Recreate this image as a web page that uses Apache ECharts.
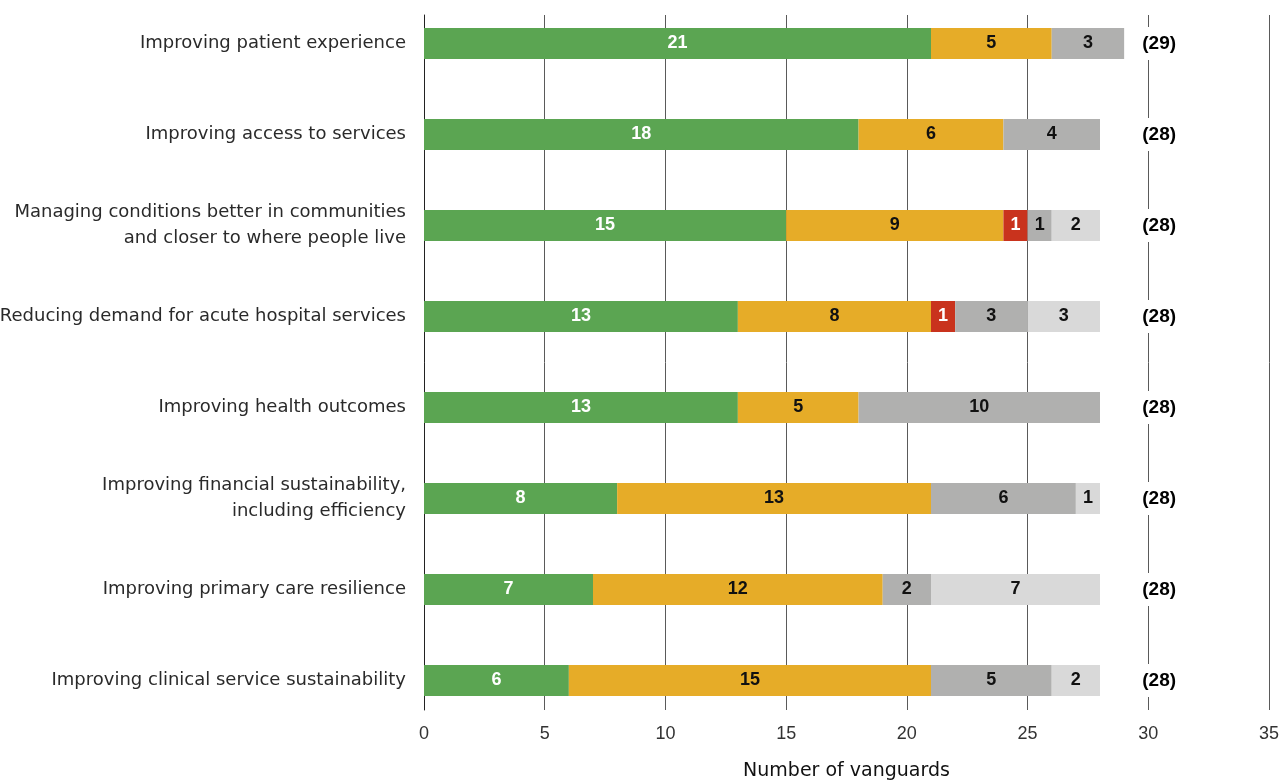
<!DOCTYPE html>
<html>
<head>
<meta charset="utf-8">
<script src="https://cdn.jsdelivr.net/npm/echarts@6/dist/echarts.min.js"></script>
<style>
  html, body { margin: 0; padding: 0; background: #fff; }
  #chart { width: 1284px; height: 781px; }
</style>
</head>
<body>
<div id="chart"></div>
<script>
// Vanguard objectives, top to bottom
const categories = [
  'Improving patient experience',
  'Improving access to services',
  'Managing conditions better in communities\nand closer to where people live',
  'Reducing demand for acute hospital services',
  'Improving health outcomes',
  'Improving financial sustainability,\nincluding efficiency',
  'Improving primary care resilience',
  'Improving clinical service sustainability'
];

// Stacked segment counts per objective (null = no segment)
const greenValues  = [21, 18, 15, 13, 13, 8, 7, 6];
const yellowValues = [5, 6, 9, 8, 5, 13, 12, 15];
const redValues    = [null, null, 1, 1, null, null, null, null];
const greyValues   = [3, 4, 1, 3, 10, 6, 2, 5];
const lightValues  = [null, null, 2, 3, null, 1, 7, 2];

const xTicks = [0, 5, 10, 15, 20, 25, 30, 35];

const totals = categories.map((_, i) =>
  [greenValues, yellowValues, redValues, greyValues, lightValues]
    .reduce((s, arr) => s + (arr[i] || 0), 0)
);

const FONT = '"Liberation Sans", Arial, Helvetica, sans-serif';
const TEXT_FONT = '"DejaVu Sans", "Liberation Sans", sans-serif';

function segment(name, data, color, textColor) {
  return {
    name: name,
    type: 'bar',
    stack: 'total',
    xAxisIndex: 0,
    yAxisIndex: 0,
    barWidth: 31,
    data: data,
    itemStyle: { color: color },
    label: {
      show: true,
      position: 'inside',
      color: textColor,
      fontFamily: FONT,
      fontSize: 18,
      fontWeight: 'bold',
      formatter: p => (p.value == null ? '' : p.value)
    },
    z: 3
  };
}

const chart = echarts.init(document.getElementById('chart'), null, { renderer: 'canvas' });

chart.setOption({
  animation: false,
  backgroundColor: '#ffffff',
  textStyle: { fontFamily: FONT },
  grid: [
    // bars
    { left: 424, right: 15, top: -2, height: 728, containLabel: false, outerBoundsMode: 'none' },
    // gridlines and x axis
    { left: 424, right: 15, top: 15, bottom: 71, containLabel: false, outerBoundsMode: 'none' }
  ],
  xAxis: [
    {
      gridIndex: 0, type: 'value', min: 0, max: 35, interval: 5,
      axisLine: { show: false }, axisTick: { show: false },
      axisLabel: { show: false }, splitLine: { show: false }
    },
    {
      gridIndex: 1, type: 'value', min: xTicks[0], max: xTicks[xTicks.length - 1], interval: 5,
      axisLine: { show: false }, axisTick: { show: false },
      axisLabel: { color: '#333', fontSize: 18, margin: 15, fontFamily: FONT },
      splitLine: { show: true, lineStyle: { color: '#5a5a5a', width: 1 } },
      name: 'Number of vanguards',
      nameLocation: 'middle',
      nameGap: 52,
      nameTextStyle: { color: '#111', fontSize: 19, fontFamily: TEXT_FONT }
    }
  ],
  yAxis: [
    {
      gridIndex: 0, type: 'category', data: categories, inverse: true,
      axisLine: { show: false }, axisTick: { show: false },
      axisLabel: {
        color: '#2a2a2a', fontSize: 18, lineHeight: 26, margin: 18,
        align: 'right', fontFamily: TEXT_FONT
      }
    },
    {
      gridIndex: 1, type: 'value', min: 0, max: 1,
      axisLine: { show: true, lineStyle: { color: '#222', width: 1 } },
      axisTick: { show: false }, axisLabel: { show: false },
      splitLine: { show: false }
    }
  ],
  series: [
    segment('green', greenValues, '#5ba552', '#ffffff'),
    segment('yellow', yellowValues, '#e6ac28', '#111111'),
    segment('red', redValues, '#c9331d', '#ffffff'),
    segment('grey', greyValues, '#b0b0af', '#111111'),
    segment('lightgrey', lightValues, '#d9d9d9', '#111111'),
    {
      name: 'total',
      type: 'scatter',
      xAxisIndex: 0,
      yAxisIndex: 0,
      symbolSize: 0,
      itemStyle: { opacity: 1 },
      data: totals.map((t, i) => [30.45, i, t]),
      label: {
        show: true,
        position: 'inside',
        formatter: p => '(' + p.value[2] + ')',
        color: '#000',
        fontSize: 19,
        fontWeight: 'bold',
        fontFamily: FONT,
        backgroundColor: '#ffffff',
        padding: [7, 2]
      },
      z: 5
    }
  ]
});
</script>
</body>
</html>
